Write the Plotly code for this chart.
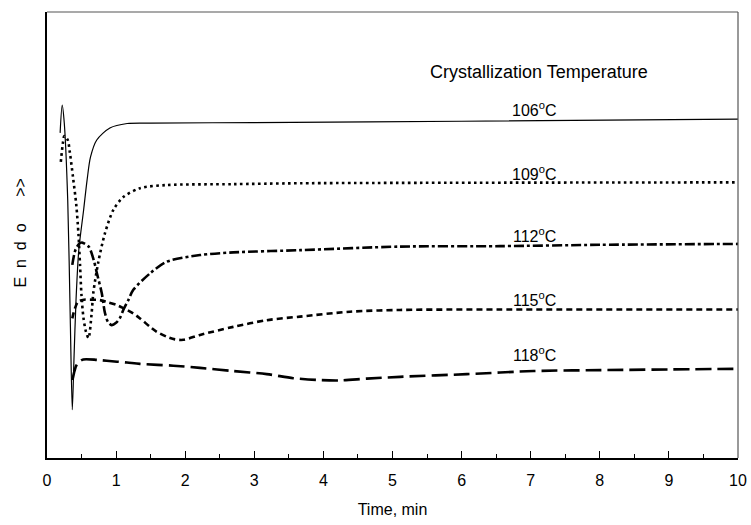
import plotly.graph_objects as go

# Isothermal crystallization DSC traces (heat flow, arbitrary units, endo up)
t_106 = [0.19, 0.22, 0.25, 0.30, 0.337, 0.366, 0.39, 0.42, 0.46, 0.53, 0.58, 0.63, 0.72, 0.91, 1.16, 1.5, 3.0, 6.0, 10.0]
y_106 = [72.9, 79.1, 75.1, 57.8, 30.9, 10.8, 22.0, 35.4, 46.6, 55.6, 62.3, 67.5, 71.3, 74.0, 75.0, 75.1, 75.2, 75.5, 76.0]

t_109 = [0.20, 0.23, 0.25, 0.30, 0.33, 0.376, 0.424, 0.456, 0.478, 0.499, 0.528, 0.564, 0.601, 0.644, 0.670, 0.742,
         0.839, 0.959, 1.104, 1.346, 1.732, 2.69, 3.66, 10.0]
y_109 = [66.4, 70.6, 72.2, 71.3, 68.6, 63.0, 56.7, 50.0, 43.3, 36.5, 31.4, 28.3, 26.9, 32.1, 37.0, 43.9,
         50.4, 55.6, 58.5, 60.5, 61.2, 61.4, 61.6, 61.8]

t_112 = [0.366, 0.410, 0.463, 0.507, 0.603, 0.676, 0.724, 0.792, 0.839, 0.883, 0.936, 0.999, 1.056, 1.104, 1.177,
         1.249, 1.491, 1.732, 2.214, 2.696, 3.661, 5.109, 6.556, 8.003, 10.0]
y_112 = [43.3, 46.6, 48.0, 48.3, 47.4, 44.4, 41.3, 37.0, 32.5, 30.5, 29.8, 30.3, 31.4, 33.2, 35.4,
         37.7, 41.4, 44.0, 45.5, 46.1, 46.6, 47.4, 47.5, 47.8, 48.0]

t_115 = [0.366, 0.405, 0.453, 0.535, 0.622, 0.767, 0.864, 1.009, 1.104, 1.249, 1.346, 1.491, 1.588, 1.732, 1.852,
         1.973, 2.214, 2.696, 3.18, 3.661, 4.385, 5.109, 6.556, 10.0]
y_115 = [31.3, 33.6, 35.1, 35.5, 35.5, 35.4, 35.0, 34.3, 33.6, 32.4, 31.3, 29.4, 28.3, 27.2, 26.6,
         26.5, 27.6, 29.4, 30.9, 31.7, 32.8, 33.2, 33.3, 33.3]

t_118 = [0.369, 0.391, 0.420, 0.453, 0.525, 0.724, 0.864, 1.158, 1.346, 1.828, 2.214, 2.696, 3.18, 3.564, 3.903,
         4.240, 4.627, 5.109, 6.074, 7.04, 8.003, 10.0]
y_118 = [17.5, 19.1, 20.6, 21.4, 22.1, 22.0, 21.8, 21.4, 21.1, 20.7, 20.2, 19.5, 18.8, 17.9, 17.5,
         17.4, 17.8, 18.2, 18.8, 19.5, 19.7, 20.0]

curve_labels = ["106<sup>o</sup>C", "109<sup>o</sup>C", "112<sup>o</sup>C", "115<sup>o</sup>C", "118<sup>o</sup>C"]
label_x = 7.05
label_y = [78.3, 64.0, 50.0, 35.6, 23.4]

FONT = "Liberation Sans, Arial, sans-serif"

series = [
    (t_106, y_106, 1.2, "solid"),
    (t_109, y_109, 2.6, "2.6px,3.4px"),
    (t_112, y_112, 2.6, "10px,3px,3px,3px"),
    (t_115, y_115, 2.6, "6px,4px"),
    (t_118, y_118, 2.6, "16px,6px"),
]

fig = go.Figure()
for t, y, w, dash in series:
    fig.add_trace(go.Scatter(
        x=t, y=y, mode="lines",
        line=dict(color="black", width=w, dash=dash, shape="spline", smoothing=0.8),
        showlegend=False, hoverinfo="skip",
    ))

for txt, ly in zip(curve_labels, label_y):
    fig.add_annotation(x=label_x, y=ly, xref="x", yref="y", text=txt, showarrow=False,
                       font=dict(family=FONT, size=16, color="black"))

fig.add_annotation(x=7.12, y=86.5, xref="x", yref="y", text="Crystallization Temperature",
                   showarrow=False, font=dict(family=FONT, size=18, color="black"))

# rotated y label with spaced letters
fig.add_annotation(x=-0.038, y=0.505, xref="paper", yref="paper",
                   text="E\u00a0\u00a0n\u00a0\u00a0d\u00a0\u00a0o\u00a0\u00a0\u00a0\u00a0\u00a0\u00a0>>",
                   textangle=-90, showarrow=False, xanchor="center", yanchor="middle",
                   font=dict(family=FONT, size=16, color="black"))

# thin grey frame on the top and right sides
fig.add_shape(type="line", xref="paper", yref="paper", x0=0, x1=1, y0=1, y1=1,
              line=dict(color="#555555", width=1.2), layer="above")
fig.add_shape(type="line", xref="paper", yref="paper", x0=1, x1=1, y0=0, y1=1,
              line=dict(color="#555555", width=1.2), layer="above")

fig.update_xaxes(
    range=[0, 10], dtick=1, tick0=0, automargin=False,
    ticks="inside", ticklen=7, tickwidth=1, tickcolor="black",
    minor=dict(ticks="inside", ticklen=4, dtick=0.5, tickcolor="black", tickwidth=1),
    showline=True, linecolor="black", linewidth=2, mirror=False,
    showgrid=False, zeroline=False,
    tickfont=dict(family=FONT, size=16, color="black"),
    ticklabelstandoff=7,
    title=dict(text="Time, min", font=dict(family=FONT, size=16, color="black"), standoff=16),
)
fig.update_yaxes(
    range=[0, 100], showticklabels=False, ticks="", automargin=False,
    showline=True, linecolor="black", linewidth=2, mirror=False,
    showgrid=False, zeroline=False,
)

fig.update_layout(
    width=751, height=525, autosize=False,
    margin=dict(l=47, r=13, t=12, b=67, autoexpand=False),
    paper_bgcolor="white", plot_bgcolor="white",
    font=dict(family=FONT, color="black"),
)

fig.write_html("out.html")
